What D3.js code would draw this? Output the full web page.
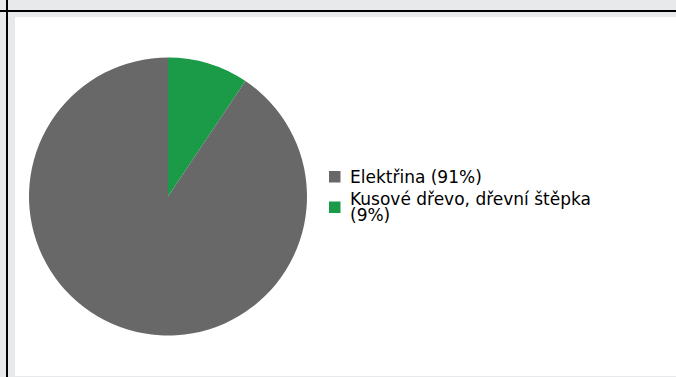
<!DOCTYPE html>
<html>
<head>
<meta charset="utf-8">
<script src="https://cdn.jsdelivr.net/npm/d3@7"></script>
<style>
    body { margin: 0; background: #e8e9eb; }
    svg { display: block; font-family: "DejaVu Sans", sans-serif; }
</style>
</head>
<body>
<div id="chart"></div>
<script>
const labels = ["Kusové dřevo, dřevní štěpka", "Elektřina"];
const values = [9.4, 90.6];
const colors = ["#1b9a48", "#686868"];
// legend order differs from slice order
const legendOrder = [1, 0];

const W = 676, H = 377;

const svg = d3.select("#chart")
    .append("svg")
    .attr("width", W)
    .attr("height", H);

// page frame
svg.append("rect").attr("x", 0).attr("y", 0).attr("width", W).attr("height", H).attr("fill", "#e8e9eb");
svg.append("rect").attr("x", 15).attr("y", 17).attr("width", W - 15).attr("height", 359).attr("fill", "#fff");
svg.append("rect").attr("x", 0).attr("y", 10).attr("width", W).attr("height", 2).attr("fill", "#000");
svg.append("rect").attr("x", 6).attr("y", 0).attr("width", 2).attr("height", H).attr("fill", "#000");

const cx = 168, cy = 196.5, r = 139;

const pie = d3.pie().sort(null).value(d => d)(values);
const arc = d3.arc().innerRadius(0).outerRadius(r);

svg.append("g")
    .attr("transform", `translate(${cx},${cy})`)
    .selectAll("path")
    .data(pie)
    .enter()
    .append("path")
    .attr("d", arc)
    .attr("fill", (d, i) => colors[i]);

const total = d3.sum(values);
const legend = svg.append("g").attr("transform", "translate(329,171)");

legendOrder.forEach(i => {
    const pct = Math.round(values[i] / total * 100);
    const lines = i === 0 ? [labels[i], `(${pct}%)`] : [`${labels[i]} (${pct}%)`];
    const top = i === 0 ? 30.5 : 0;
    legend.append("rect")
        .attr("x", 0).attr("y", top)
        .attr("width", 11.5).attr("height", 11.5)
        .attr("fill", colors[i]);
    const t = legend.append("text")
        .attr("font-size", 17)
        .attr("fill", "#000");
    lines.forEach((ln, k) => {
        t.append("tspan")
            .attr("x", 21)
            .attr("y", (i === 0 ? 33.5 : 11.5) + k * 16)
            .text(ln);
    });
});
</script>
</body>
</html>
